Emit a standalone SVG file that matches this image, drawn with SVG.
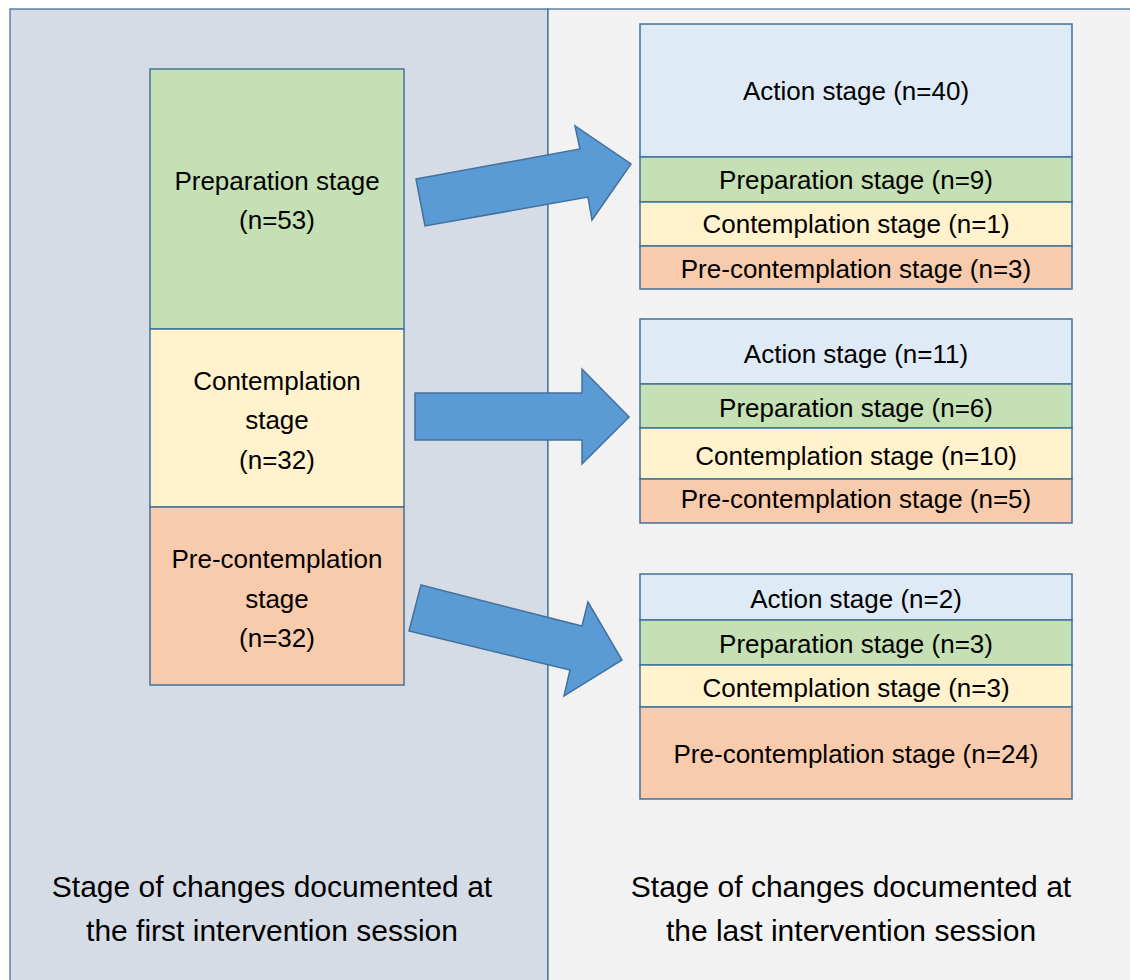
<svg xmlns="http://www.w3.org/2000/svg" width="1130" height="980" viewBox="0 0 1130 980">
<style>
text{font-family:"Liberation Sans",Arial,sans-serif;font-size:26px;fill:#000;text-anchor:middle}
.lab{font-size:30px}
.panel{stroke:#41719c;stroke-width:1.3}
.box{stroke:#41719c;stroke-width:1.5}
.act{fill:#deebf7}.prep{fill:#c5e0b4}.con{fill:#fff2cc}.pre{fill:#f8cbad}
.arr{fill:#5b9bd5;stroke:#41719c;stroke-width:1.5;stroke-linejoin:miter}
</style>
<rect width="1130" height="980" fill="#fff"/>
<g id="panel-first">
<rect class="panel" x="10" y="9" width="538" height="980" fill="#d6dce5"/>
<text class="lab" x="272" y="897">Stage of changes documented at</text>
<text class="lab" x="272" y="941">the first intervention session</text>
</g>
<g id="panel-last">
<rect class="panel" x="548" y="9" width="590" height="980" fill="#f2f2f2"/>
<text class="lab" x="851" y="897">Stage of changes documented at</text>
<text class="lab" x="851" y="941">the last intervention session</text>
</g>
<g id="first-preparation">
<rect class="box prep" x="150" y="69" width="254" height="260"/>
<text x="277" y="190">Preparation stage</text>
<text x="277" y="229">(n=53)</text>
</g>
<g id="first-contemplation">
<rect class="box con" x="150" y="329" width="254" height="178"/>
<text x="277" y="390">Contemplation</text>
<text x="277" y="429">stage</text>
<text x="277" y="469">(n=32)</text>
</g>
<g id="first-precontemplation">
<rect class="box pre" x="150" y="507" width="254" height="178"/>
<text x="277" y="568">Pre-contemplation</text>
<text x="277" y="608">stage</text>
<text x="277" y="647">(n=32)</text>
</g>
<g id="last-from-preparation">
<rect class="box act" x="640" y="24" width="432" height="133"/>
<text x="856" y="100">Action stage (n=40)</text>
<rect class="box prep" x="640" y="157" width="432" height="45"/>
<text x="856" y="189">Preparation stage (n=9)</text>
<rect class="box con" x="640" y="202" width="432" height="44"/>
<text x="856" y="233">Contemplation stage (n=1)</text>
<rect class="box pre" x="640" y="246" width="432" height="43"/>
<text x="856" y="278">Pre-contemplation stage (n=3)</text>
</g>
<g id="last-from-contemplation">
<rect class="box act" x="640" y="319" width="432" height="65"/>
<text x="856" y="363">Action stage (n=11)</text>
<rect class="box prep" x="640" y="384" width="432" height="44"/>
<text x="856" y="417">Preparation stage (n=6)</text>
<rect class="box con" x="640" y="428" width="432" height="51"/>
<text x="856" y="465">Contemplation stage (n=10)</text>
<rect class="box pre" x="640" y="479" width="432" height="44"/>
<text x="856" y="508">Pre-contemplation stage (n=5)</text>
</g>
<g id="last-from-precontemplation">
<rect class="box act" x="640" y="574" width="432" height="46"/>
<text x="856" y="608">Action stage (n=2)</text>
<rect class="box prep" x="640" y="620" width="432" height="45"/>
<text x="856" y="653">Preparation stage (n=3)</text>
<rect class="box con" x="640" y="665" width="432" height="42"/>
<text x="856" y="697">Contemplation stage (n=3)</text>
<rect class="box pre" x="640" y="707" width="432" height="92"/>
<text x="856" y="763">Pre-contemplation stage (n=24)</text>
</g>
<g id="connectors">
<polygon class="arr" points="416,179 580,149 575,126 631,164 592,220 588,197 425,226"/>
<polygon class="arr" points="415,393 582,393 582,369 629,417 582,464 582,440 415,440"/>
<polygon class="arr" points="421,585 582,626 588,602 622,660 564,696 570,670 409,631"/>
</g>
</svg>
